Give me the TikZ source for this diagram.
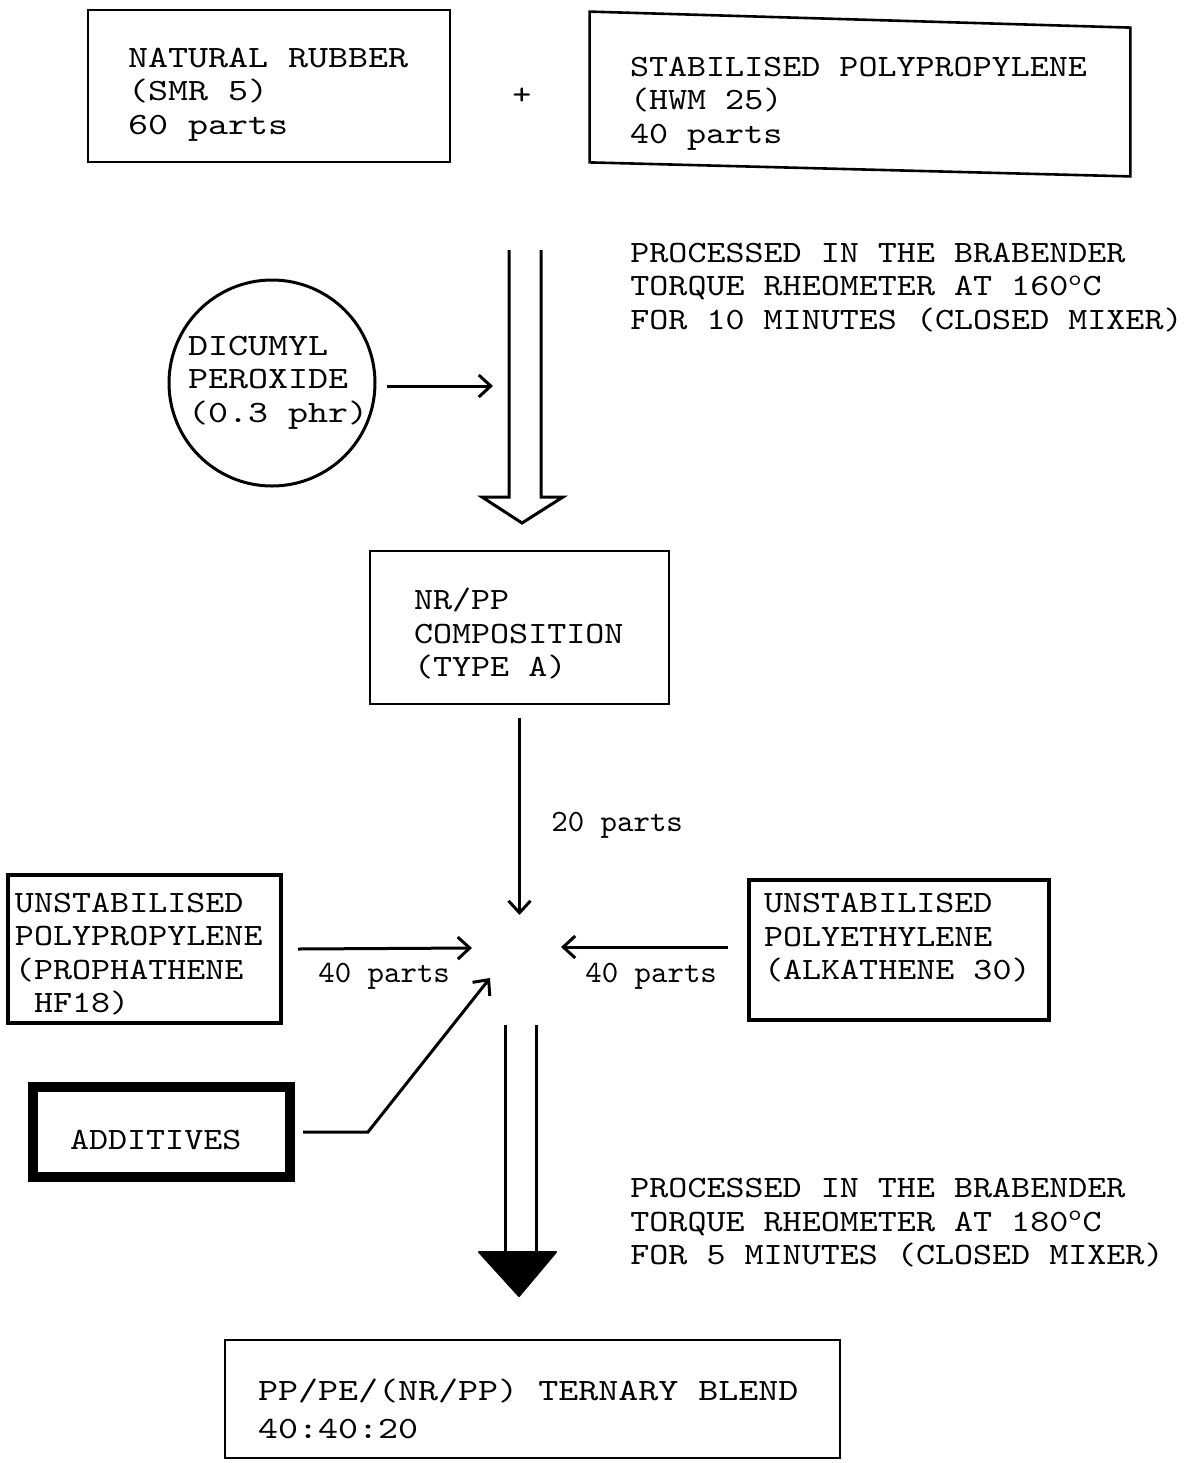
\documentclass[tikz,border=0pt]{standalone}
\usepackage{fontspec}
\newfontfamily\tw{lmmono10-regular.otf}[FakeStretch=1.17]
\newfontfamily\twb{lmmono10-regular.otf}[FakeStretch=1.23]
\newfontfamily\twn{lmmono10-regular.otf}[FakeStretch=1.01]
\newcommand\setT[2]{#1\fontsize{15.5}{#2}\selectfont}
% one typewriter space: as wide as one character of the current font
\newcommand\ts{\leavevmode\hbox to \fontcharwd\font`x{\hss}}
\usetikzlibrary{arrows.meta,calc}
\begin{document}
\begin{tikzpicture}[x=0.5pt,y=-0.5pt,
  every node/.style={font=\setT\tw{16.75pt}, inner sep=0pt},
  wide/.style={font=\setT\twb{16.75pt}},
  narrow/.style={font=\setT\twn{16.75pt}},
  box/.style={draw, line width=1.3pt, rectangle, align=left},
  arr/.style={line width=1.5pt, -{Straight Barb[length=6pt,width=11pt,line width=1.5pt]}},
  dbl/.style={line width=1.5pt},
  plain/.style={align=left, anchor=north west, text width=290pt, text height=9.5pt, text depth=33.5pt}
]
\useasboundingbox (0,0) rectangle (1188,1463);

% top inputs
\node[box, wide, minimum width=181pt, minimum height=76pt, text width=141pt, text height=14.5pt, text depth=33.5pt] (nr) at (269,86) {NATURAL\ts RUBBER\\(SMR\ts 5)\\60\ts parts};
\node (plus) at (522,96) {+};
\node[align=left, minimum width=270pt, minimum height=75pt, text width=230pt, text height=15.5pt, text depth=33.5pt] (pp) at (860,94) {STABILISED\ts POLYPROPYLENE\\(HWM\ts 25)\\40\ts parts};
\draw[line width=1.3pt] ([yshift=3.5pt]pp.north west) -- ([yshift=-4.5pt]pp.north east) -- ([yshift=-3.5pt]pp.south east) -- ([yshift=3.5pt]pp.south west) -- cycle;

% first processing step
\node[plain] (proc1) at (630,243) {PROCESSED\ts IN\ts THE\ts BRABENDER\\TORQUE\ts RHEOMETER\ts AT\ts 160\textsuperscript{o}C\\FOR\ts 10\ts MINUTES\ts (CLOSED\ts MIXER)};
\draw[dbl] (509,250) -- (509,497) -- (482,497) -- (522,523) -- (563,497) -- (541,497) -- (541,250);

\node[circle, draw, wide, line width=1.5pt, minimum size=103pt, align=left, text width=84pt, text height=9.5pt, text depth=37.5pt] (dcp) at (272,383) {DICUMYL\\PEROXIDE\\(0.3\ts phr)};
\coordinate (in1) at (493,386);
\draw[arr] ([xshift=5pt,yshift=-1.5pt]dcp.east) -- (in1);

% NR/PP composition
\node[box, minimum width=149.5pt, minimum height=76.5pt, text width=105.5pt, text height=15.5pt, text depth=33.5pt] (nrpp) at (519.5,627.5) {NR/PP\\COMPOSITION\\(TYPE\ts A)};
\coordinate (hubN) at (519.5,915);
\draw[arr] ([yshift=-6.5pt]nrpp.south) -- (hubN);
\node[narrow, anchor=base west] (l20) at (551,831) {20\ts parts};

% second stage inputs
\node[box, line width=2pt, minimum width=136.5pt, minimum height=74pt, text width=129.5pt, text height=13.5pt, text depth=50.25pt] (upp) at (144.5,949) {UNSTABILISED\\POLYPROPYLENE\\(PROPHATHENE\\\ts HF18)};
\coordinate (hubW) at (472,948);
\draw[arr] ([xshift=7.5pt]upp.east) -- (hubW);
\node[narrow, anchor=base west] (l40a) at (318,982) {40\ts parts};

\node[box, line width=2pt, minimum width=150pt, minimum height=70pt, text width=135pt, text height=9.5pt, text depth=47pt] (upe) at (899,950) {UNSTABILISED\\POLYETHYLENE\\(ALKATHENE\ts 30)};
\coordinate (hubE) at (561,947);
\draw[arr] ([xshift=-9.5pt,yshift=1.5pt]upe.west) -- (hubE);
\node[narrow, anchor=base west] (l40b) at (585,982) {40\ts parts};

\node[box, line width=5pt, minimum width=128.5pt, minimum height=45pt, text width=91.5pt, text height=17.5pt, text depth=0pt] (add) at (161.5,1132) {ADDITIVES};
\coordinate (hubS) at (490,978);
\draw[arr] ([xshift=4pt]add.east) -- ++(65,0) -- (hubS);

% second processing step
\draw[dbl] (505,1025) -- (505,1253);
\draw[dbl] (536,1025) -- (536,1253);
\fill[line join=round, draw, line width=1pt] (479,1252) -- (556,1252) -- (519,1296) -- cycle;
\node[plain] (proc2) at (630,1178.5) {PROCESSED\ts IN\ts THE\ts BRABENDER\\TORQUE\ts RHEOMETER\ts AT\ts 180\textsuperscript{o}C\\FOR\ts 5\ts MINUTES\ts (CLOSED\ts MIXER)};

% final blend
\node[box, minimum width=307.5pt, minimum height=59pt, text width=274.5pt, text height=20.5pt, text depth=19pt, font=\setT\twb{19pt}] (blend) at (532.5,1399) {PP/PE/(NR/PP)\ts TERNARY\ts BLEND\\40:40:20};
\end{tikzpicture}
\end{document}
